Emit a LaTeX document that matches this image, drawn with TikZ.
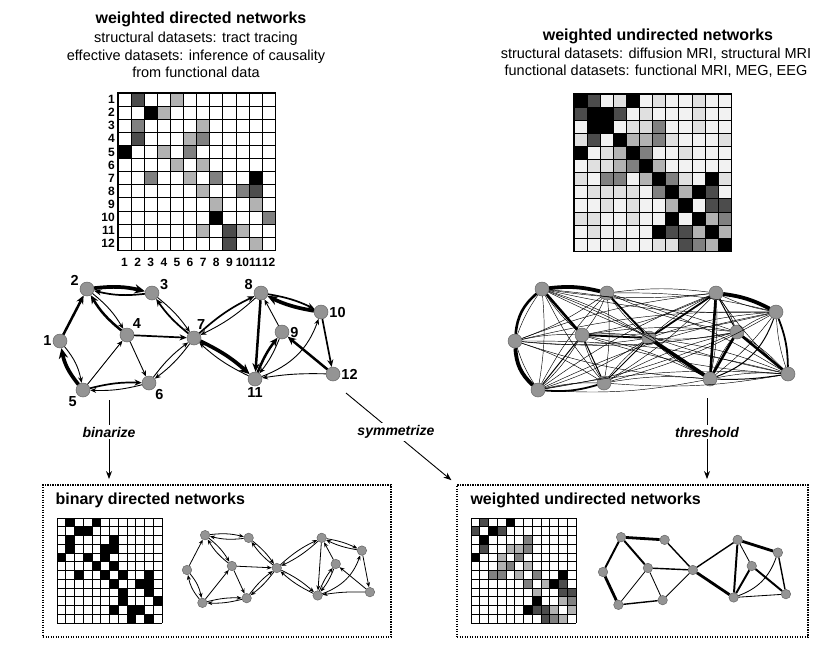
\documentclass[tikz,border=0pt]{standalone}
\usepackage{fontspec}
\setmainfont{Liberation Sans}
\usetikzlibrary{positioning,arrows.meta,calc}

% node positions (number/x/y/label angle) of the 12-region network
\def\netpos{1/60/341/180, 2/87/289/165, 3/152/293/20, 4/127/335/50,
  5/83/390/225, 6/149/383/315, 7/194/338/75, 8/261/293/165,
  9/282/332/0, 10/321/312/0, 11/255/379/270, 12/333/374/0}
% directed links: from/to/weight/bend
\def\dirlinks{1/2/70/0, 1/5/30/14, 2/3/100/10, 2/4/30/10, 3/2/50/10,
  3/7/30/8, 4/2/70/10, 4/6/30/0, 4/7/50/0, 5/1/100/14, 5/4/30/0,
  5/6/50/8, 6/5/30/8, 6/7/30/8, 7/3/50/8, 7/6/30/8, 7/8/50/8,
  7/11/100/8, 8/7/30/8, 8/10/50/8, 8/11/70/0, 9/8/30/0, 9/11/30/8,
  10/8/100/8, 10/12/50/0, 11/7/30/8, 11/9/70/8, 11/10/30/-25,
  12/9/70/0, 12/11/30/-5}
% undirected links: a/b/weight/bend (small)/bend (large)
\def\undlinks{1/2/70/0/22, 5/1/100/0/22, 2/3/100/0/10, 2/4/70/0/0,
  3/7/50/0/0, 4/5/30/0/0, 4/6/30/0/0, 4/7/50/0/0, 5/6/50/0/-10,
  6/7/30/0/0, 7/8/50/0/0, 7/11/100/0/0, 8/9/30/0/0, 8/10/100/0/10,
  8/11/70/0/0, 9/11/70/0/0, 9/12/70/0/0, 11/10/30/-25/-25,
  10/12/50/0/10, 11/12/30/0/-5}

\begin{document}
\begin{tikzpicture}[
    x=1pt, y=-1pt,
    font=\fontsize{14.5}{17.5}\selectfont,
    head/.style={font=\fontsize{16}{19}\selectfont\bfseries},
    txt/.style={align=center, font=\fontsize{14.5}{17.5}\selectfont},
    matlab/.style={font=\fontsize{12}{12}\selectfont\bfseries, inner sep=1pt},
    numlab/.style={font=\fontsize{14.5}{14.5}\selectfont\bfseries, inner sep=1pt},
    vertex/.style={circle, fill=black!42, draw=black!60, line width=0.5pt,
                   minimum size=14pt, inner sep=0pt},
    smallvertex/.style={vertex, minimum size=9.5pt},
    dirlink/.style={-{Stealth[length=4.5pt 1.6, width=3.4pt 1.6]}},
    smalldir/.style={-{Stealth[length=5pt, width=4pt]}, line width=0.8pt},
    thinlink/.style={line width=0.45pt},
    dotbox/.style={draw, line width=1.9pt, dash pattern=on 1.4pt off 1.1pt},
    oparrow/.style={-{Stealth[length=8pt, width=6pt]}, line width=0.9pt},
    oplab/.style={fill=white, inner sep=2pt,
                  font=\fontsize{14}{14}\selectfont\bfseries\itshape}
]
\useasboundingbox (0,0) rectangle (834,649);

% headings
\node[head] (dirhead) at (201,19) {weighted directed networks};
\node[txt] (dirtext) at (196,55)
    {structural datasets: tract tracing\\
     effective datasets: inference of causality\\
     from functional data};
\node[head] (undhead) at (658,36) {weighted undirected networks};
\node[txt] (undtext) at (656,62.5)
    {structural datasets: diffusion MRI, structural MRI\\
     functional datasets: functional MRI, MEG, EEG};

% weighted directed matrix
\begin{scope}[shift={(118,93)}]
  \foreach \a/\b/\w/\bend in \dirlinks
    \fill[black!\w] ({(\b-1)*13.1},{(\a-1)*13.1}) rectangle ++(13.1,13.1);
  \foreach \k in {0,...,12} {
    \draw[line width=0.8pt] ({\k*13.1},0) -- ({\k*13.1},157.2);
    \draw[line width=0.8pt] (0,{\k*13.1}) -- (157.2,{\k*13.1});
  }
  \draw[line width=1.2pt] (0,0) rectangle (157.2,157.2);
  \foreach \k in {1,...,12} {
    \node[matlab, anchor=east] (row\k) at (-2,{(\k-0.5)*13.1}) {\k};
    \node[matlab] (col\k) at ({(\k-0.5)*13.1},169.5) {\k};
  }
\end{scope}

% weighted undirected matrix
\begin{scope}[shift={(574,94)}]
  \foreach \row [count=\i] in {
      {100,70,5,12,100,5,12,5,5,12,5,5},
      {70,100,100,70,5,12,5,5,5,12,5,5},
      {5,100,100,5,12,15,50,5,5,12,5,5},
      {12,70,5,100,30,30,50,12,5,5,5,12},
      {100,5,12,30,100,50,5,5,12,5,5,5},
      {5,12,12,30,50,100,30,5,5,5,5,5},
      {12,5,50,50,5,30,100,50,12,5,100,12},
      {5,12,12,12,12,5,50,100,30,100,70,5},
      {5,5,12,5,12,5,5,30,100,5,70,70},
      {12,12,5,5,12,5,5,100,5,100,30,50},
      {5,12,5,5,5,5,100,70,70,30,100,30},
      {5,5,5,12,5,5,12,12,70,50,30,100}}
    \foreach \w [count=\j] in \row
      \fill[black!\w] ({(\j-1)*13.1},{(\i-1)*13.1}) rectangle ++(13.1,13.1);
  \foreach \k in {0,...,12} {
    \draw[line width=0.8pt] ({\k*13.1},0) -- ({\k*13.1},157.2);
    \draw[line width=0.8pt] (0,{\k*13.1}) -- (157.2,{\k*13.1});
  }
  \draw[line width=1.4pt] (0,0) rectangle (157.2,157.2);
\end{scope}

% weighted directed network
\foreach \k/\px/\py/\ang in \netpos
  \node[vertex, label={[numlab]\ang:\k}] (n\k) at (\px,\py) {};
\foreach \a/\b/\w/\bend in \dirlinks {
  \pgfmathsetmacro\lw{0.04*\w-0.3}
  \draw[dirlink, line width=\lw pt] (n\a) to[bend left=\bend] (n\b);
}

% weighted undirected network (all pairs, strong ones thick)
\begin{scope}[shift={(455,0)}]
  \foreach \k/\px/\py/\ang in \netpos
    \node[vertex] (u\k) at (\px,\py) {};
\end{scope}
\foreach \a in {1,...,11} {
  \pgfmathtruncatemacro\nxt{\a+1}
  \foreach \b in {\nxt,...,12} {
    \pgfmathtruncatemacro\bb{isodd(\a+\b) ? 7 : -7}
    \draw[thinlink] (u\a) to[bend left=\bb] (u\b);
  }
}
\foreach \a/\b/\w/\bend/\bigbend in \undlinks {
  \pgfmathsetmacro\lw{0.04*\w-0.2}
  \draw[line width=\lw pt] (u\a) to[bend left=\bigbend] (u\b);
}

% result boxes
\node[dotbox, minimum width=348pt, minimum height=152pt] (binbox) at (217,561) {};
\node[dotbox, minimum width=351pt, minimum height=152pt] (wunbox) at (632.5,561) {};
\node[head, anchor=west] (bintitle) at (52,500) {binary directed networks};
\node[head, anchor=west] (wuntitle) at (467,500) {weighted undirected networks};

% binary directed matrix
\begin{scope}[shift={(57,518)}]
  \foreach \a/\b/\w/\bend in \dirlinks
    \fill[black] ({(\b-1)*8.75},{(\a-1)*8.75}) rectangle ++(8.75,8.75);
  \foreach \k in {0,...,12} {
    \draw[line width=0.6pt] ({\k*8.75},0) -- ({\k*8.75},105);
    \draw[line width=0.6pt] (0,{\k*8.75}) -- (105,{\k*8.75});
  }
\end{scope}

% symmetrized matrix
\begin{scope}[shift={(471,518)}]
  \foreach \lvl in {30,50,70,100}
    \foreach \a/\b/\w/\bend in \dirlinks {
      \ifnum\w=\lvl
        \fill[black!\w] ({(\b-1)*8.75},{(\a-1)*8.75}) rectangle ++(8.75,8.75);
        \fill[black!\w] ({(\a-1)*8.75},{(\b-1)*8.75}) rectangle ++(8.75,8.75);
      \fi
    }
  \foreach \k in {0,...,12} {
    \draw[line width=0.6pt] ({\k*8.75},0) -- ({\k*8.75},105);
    \draw[line width=0.6pt] (0,{\k*8.75}) -- (105,{\k*8.75});
  }
\end{scope}

% binary directed network
\begin{scope}[shift={(187,570)}, scale=0.67, shift={(-60,-341)}]
  \foreach \k/\px/\py/\ang in \netpos
    \node[smallvertex] (s\k) at (\px,\py) {};
\end{scope}
\foreach \a/\b/\w/\bend in \dirlinks
  \draw[smalldir] (s\a) to[bend left=\bend] (s\b);

% thresholded network
\begin{scope}[shift={(603,572)}, scale=0.67, shift={(-60,-341)}]
  \foreach \k/\px/\py/\ang in \netpos
    \node[smallvertex] (t\k) at (\px,\py) {};
\end{scope}
\foreach \a/\b/\w/\bend/\bigbend in \undlinks {
  \pgfmathsetmacro\lw{0.028*\w}
  \draw[line width=\lw pt] (t\a) to[bend left=\bend] (t\b);
}

% operations
\coordinate (binstart) at (109,400);
\coordinate (symstart) at (346,393);
\coordinate (thrstart) at (707,398);
\draw[oparrow, shorten >=5pt] (binstart) -- (binstart |- binbox.north);
\draw[oparrow, shorten >=6pt] (symstart) -- (wunbox.north west);
\draw[oparrow, shorten >=5pt] (thrstart) -- (thrstart |- wunbox.north);
\node[oplab] (binlab) at (109,432) {binarize};
\node[oplab] (symlab) at (396,432) {symmetrize};
\node[oplab] (thrlab) at (707,432) {threshold};

\end{tikzpicture}
\end{document}
